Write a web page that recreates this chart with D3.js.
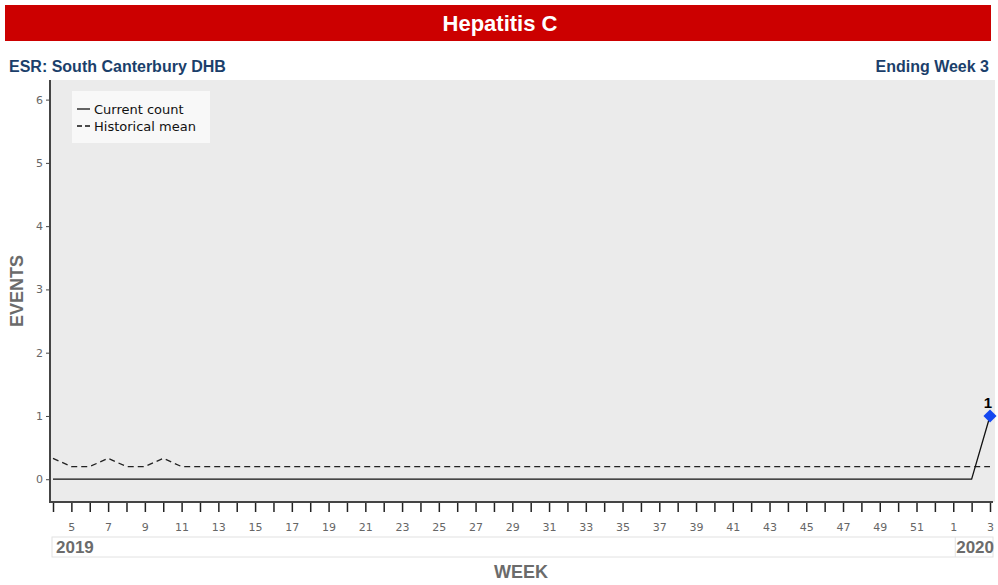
<!DOCTYPE html>
<html>
<head>
<meta charset="utf-8">
<script src="https://cdn.jsdelivr.net/npm/d3@7"></script>
<style>
  body { margin: 0; background: #fff; font-family: "Liberation Sans", Arial, sans-serif; }
  .tick text { fill: #666; font-family: "DejaVu Sans", sans-serif; font-size: 11px; }
</style>
</head>
<body>
<div id="chart"></div>
<script>
// weeks shown on the x axis (2019 wk 4 .. 2020 wk 3)
var weeks = [4,5,6,7,8,9,10,11,12,13,14,15,16,17,18,19,20,21,22,23,24,25,26,27,28,29,30,31,32,33,34,35,36,37,38,39,40,41,42,43,44,45,46,47,48,49,50,51,52,1,2,3];
var years = ["2019", "2020"];
var currentCount = [0,0,0,0,0,0,0,0,0,0,0,0,0,0,0,0,0,0,0,0,0,0,0,0,0,0,0,0,0,0,0,0,0,0,0,0,0,0,0,0,0,0,0,0,0,0,0,0,0,0,0,1];
var historicalMean = [0.33,0.2,0.2,0.33,0.2,0.2,0.33,0.2,0.2,0.2,0.2,0.2,0.2,0.2,0.2,0.2,0.2,0.2,0.2,0.2,0.2,0.2,0.2,0.2,0.2,0.2,0.2,0.2,0.2,0.2,0.2,0.2,0.2,0.2,0.2,0.2,0.2,0.2,0.2,0.2,0.2,0.2,0.2,0.2,0.2,0.2,0.2,0.2,0.2,0.2,0.2,0.2];
var yTicks = [0,1,2,3,4,5,6];

var svgWidth = 998, svgHeight = 585;
var svg = d3.select("#chart").append("svg")
  .attr("width", svgWidth)
  .attr("height", svgHeight);

// title bar
svg.append("rect")
  .attr("x", 5).attr("y", 5).attr("width", 986).attr("height", 36)
  .attr("fill", "#cc0000");
svg.append("text")
  .attr("x", 500).attr("y", 31)
  .attr("text-anchor", "middle")
  .attr("fill", "#fff")
  .attr("font-size", "22px")
  .attr("font-weight", "bold")
  .text("Hepatitis C");

svg.append("text")
  .attr("x", 9).attr("y", 72)
  .attr("fill", "#1b3f6b").attr("font-size", "16px").attr("font-weight", "bold")
  .text("ESR: South Canterbury DHB");
svg.append("text")
  .attr("x", 989).attr("y", 72)
  .attr("text-anchor", "end")
  .attr("fill", "#1b3f6b").attr("font-size", "16px").attr("font-weight", "bold")
  .text("Ending Week 3");

var plot = { left: 50, right: 995, top: 80, bottom: 502 };

var x = d3.scaleLinear()
  .domain([0, weeks.length - 1])
  .range([53, 990]);

var y = d3.scaleLinear()
  .domain([-0.36, 6.31])
  .range([plot.bottom, plot.top]);

// plot background
svg.append("rect")
  .attr("x", plot.left).attr("y", plot.top)
  .attr("width", plot.right - plot.left).attr("height", plot.bottom - plot.top)
  .attr("fill", "#ebebeb");

// y axis
var yAxis = d3.axisLeft(y).tickValues(yTicks).tickSize(4).tickPadding(3).tickFormat(d3.format("d"));
var gy = svg.append("g")
  .attr("transform", "translate(" + plot.left + ",0)")
  .call(yAxis);
gy.select(".domain").remove();
gy.selectAll(".tick line").attr("stroke", "#444");
svg.append("line")
  .attr("x1", plot.left).attr("x2", plot.left)
  .attr("y1", plot.top).attr("y2", plot.bottom + 1)
  .attr("stroke", "#444").attr("stroke-width", 2);

// x axis
var xAxis = d3.axisBottom(x)
  .tickValues(d3.range(weeks.length))
  .tickSize(9)
  .tickPadding(11)
  .tickFormat(function(i) { return weeks[i] % 2 === 1 ? weeks[i] : ""; });
var gx = svg.append("g")
  .attr("transform", "translate(0," + (plot.bottom + 1) + ")")
  .call(xAxis);
gx.select(".domain").remove();
gx.selectAll(".tick line").attr("stroke", "#222").attr("stroke-width", 1.5);
svg.append("line")
  .attr("x1", plot.left).attr("x2", 993)
  .attr("y1", plot.bottom).attr("y2", plot.bottom)
  .attr("stroke", "#444").attr("stroke-width", 2);

// year boxes
var splitIdx = weeks.indexOf(1);
var yearBox = svg.append("g");
yearBox.append("rect")
  .attr("x", 52).attr("y", 537).attr("width", x(weeks.length - 1) + 3 - 52).attr("height", 20)
  .attr("fill", "none").attr("stroke", "#e2e2e2").attr("stroke-width", 1);
yearBox.append("line")
  .attr("x1", x(splitIdx) + 2).attr("x2", x(splitIdx) + 2)
  .attr("y1", 537).attr("y2", 557)
  .attr("stroke", "#e2e2e2");
yearBox.append("text")
  .attr("x", 56).attr("y", 553)
  .attr("fill", "#6b6b6b").attr("font-size", "17px").attr("font-weight", "bold")
  .text(years[0]);
yearBox.append("text")
  .attr("x", 994).attr("y", 553)
  .attr("text-anchor", "end")
  .attr("fill", "#6b6b6b").attr("font-size", "17px").attr("font-weight", "bold")
  .text(years[1]);

// axis titles
svg.append("text")
  .attr("x", 521).attr("y", 578)
  .attr("text-anchor", "middle")
  .attr("fill", "#6b6b6b").attr("font-size", "18px").attr("font-weight", "bold")
  .text("WEEK");
svg.append("text")
  .attr("transform", "translate(23," + 291 + ") rotate(-90)")
  .attr("text-anchor", "middle")
  .attr("fill", "#6b6b6b").attr("font-size", "18px").attr("font-weight", "bold")
  .text("EVENTS");

// lines
var line = d3.line()
  .x(function(d, i) { return x(i); })
  .y(function(d) { return y(d); });

svg.append("path")
  .datum(historicalMean)
  .attr("d", line)
  .attr("fill", "none")
  .attr("stroke", "#222")
  .attr("stroke-width", 1.3)
  .attr("stroke-dasharray", "6,4");

svg.append("path")
  .datum(currentCount)
  .attr("d", line)
  .attr("fill", "none")
  .attr("stroke", "#111")
  .attr("stroke-width", 1.3);

// last point marker
var lastIdx = currentCount.length - 1;
svg.append("path")
  .attr("d", d3.symbol().type(d3.symbolDiamond2).size(110))
  .attr("transform", "translate(" + x(lastIdx) + "," + y(currentCount[lastIdx]) + ")")
  .attr("fill", "#1447f0");
svg.append("text")
  .attr("x", x(lastIdx) - 2).attr("y", y(currentCount[lastIdx]) - 8)
  .attr("text-anchor", "middle")
  .attr("fill", "#000").attr("font-size", "15px").attr("font-weight", "bold")
  .text(currentCount[lastIdx]);

// legend
var legend = svg.append("g").attr("transform", "translate(72,91)");
legend.append("rect")
  .attr("width", 138).attr("height", 52)
  .attr("fill", "#f8f8f8");
var legendItems = [
  { label: "Current count", dash: null },
  { label: "Historical mean", dash: "5,3" }
];
legendItems.forEach(function(d, i) {
  var ly = 23 + i * 17;
  legend.append("line")
    .attr("x1", 5).attr("x2", 18).attr("y1", ly - 5).attr("y2", ly - 5)
    .attr("stroke", "#111").attr("stroke-width", 1.3)
    .attr("stroke-dasharray", d.dash);
  legend.append("text")
    .attr("x", 22).attr("y", ly)
    .attr("fill", "#111")
    .attr("font-family", "DejaVu Sans, sans-serif").attr("font-size", "13px")
    .text(d.label);
});
</script>
</body>
</html>
